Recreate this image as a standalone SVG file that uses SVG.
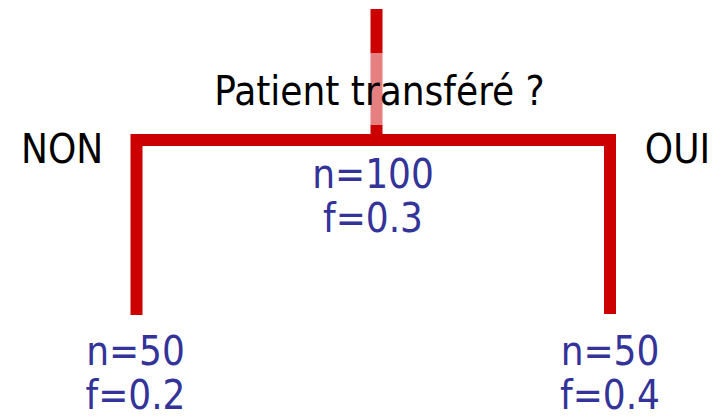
<svg xmlns="http://www.w3.org/2000/svg" width="723" height="417" viewBox="0 0 723 417">
<style>
.edge{fill:none;stroke:#cc0000;stroke-width:12;stroke-linejoin:miter;stroke-linecap:butt}
.t{font-family:"DejaVu Sans Condensed","DejaVu Sans",sans-serif;font-size:40px}
.q{fill:#000000}
.s{fill:#333399;text-anchor:middle}
</style>
<rect width="723" height="417" fill="#ffffff"/>
<g id="connectors">
<path class="edge" d="M376.5,9 V140"/>
<path class="edge" d="M136.5,315 V140 H610 V314"/>
</g>
<g id="question">
<rect x="205" y="53" width="380" height="72" fill="#ffffff" fill-opacity="0.5"/>
<text class="t q" x="379.5" y="105" text-anchor="middle">Patient transféré ?</text>
</g>
<g id="label-non"><text class="t q" x="21" y="163">NON</text></g>
<g id="label-oui"><text class="t q" x="677.5" y="163" text-anchor="middle">OUI</text></g>
<g id="root">
<text class="t s" x="373" y="188">n=100</text>
<text class="t s" x="373" y="232">f=0.3</text>
</g>
<g id="leaf-non">
<text class="t s" x="135.5" y="365">n=50</text>
<text class="t s" x="135.5" y="409">f=0.2</text>
</g>
<g id="leaf-oui">
<text class="t s" x="610" y="365">n=50</text>
<text class="t s" x="610" y="409">f=0.4</text>
</g>
</svg>
